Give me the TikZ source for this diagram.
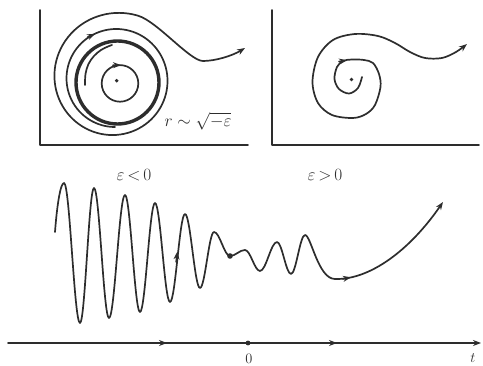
\documentclass[tikz,border=0pt]{standalone}
\usetikzlibrary{arrows.meta}
\definecolor{ink}{RGB}{45,45,45}
\begin{document}
\begin{tikzpicture}[x=1pt,y=-1pt,line cap=round,line join=round,
  curve/.style={draw=ink,line width=1.7pt},
  thickring/.style={draw=ink,line width=3.4pt},
  axisline/.style={draw=ink,line width=1.6pt},
  tip/.style={-{Stealth[length=8pt,width=6pt]}},
  lbl/.style={text=ink,inner sep=0pt}]
\useasboundingbox (0,0) rectangle (483,366);

% ---------- left panel ----------
\draw[axisline] (40,10) -- (40,145) -- (248,145);
% thick ring (limit cycle)
\draw[thickring] (117.5,82.5) circle[radius=41.5];
% inner loop
\draw[curve] (120,83.4) circle[radius=18.3];
\draw[curve,tip] (113,65.2) -- (121,65.1);
% arc inside the ring
\draw[curve] plot[smooth,tension=0.6] coordinates {(85,85) (85.5,74) (88.5,64) (94,56) (101,50) (108,46.5) (112,45)};
% outer spiral with escaping tail
\draw[curve,tip] plot[domain=0:560,samples=140,smooth]
  ({115-(48+2*(\x/180)^2)*sin(\x)},{79+(48+2*(\x/180)^2)*cos(\x)})
  .. controls (157.2,21.4) and (190,61) .. (203,61)
  .. controls (215,61) and (232,56) .. (245,48);
\draw[curve,tip] (87.7,37.2) -- (95,33.8);
\fill[ink] (116.7,80.7) circle[radius=1.9];
\node[lbl,font=\fontsize{17}{20}\selectfont] (rlab) at (198,121) {$r\sim\sqrt{-\varepsilon}$};

% ---------- right panel ----------
\draw[axisline] (272,10) -- (272,145) -- (479,145);
\draw[curve,tip] plot[smooth,tension=0.55] coordinates {
  (362,77) (358,88) (349,93.5) (339,89) (334.5,79) (337,67) (343,61)
  (352,59.5) (364,60) (373,63) (379,74) (380.5,87) (375,105) (366,114)
  (353,118) (332,115) (318,103) (312.5,82) (318,57) (333,40) (355,34)
  (378,36) (395,43) (410,52) (425,58) (442,58) (456,52) (467,44)};
\draw[curve,tip] (339,61.6) -- (347,60.2);
\fill[ink] (351.5,79.5) circle[radius=1.9];

% ---------- labels ----------
\node[lbl,font=\fontsize{16}{19}\selectfont] (lneg) at (134,175) {$\varepsilon\,{<}\,0$};
\node[lbl,font=\fontsize{16}{19}\selectfont] (lpos) at (325,175) {$\varepsilon\,{>}\,0$};

% ---------- time series ----------
\draw[curve] (55,232) .. controls (57,205) and (60.5,183) .. (64,183)
  .. controls (69.76,183) and (74.24,323) .. (80,323)
  .. controls (85.04,323) and (88.96,188) .. (94,188)
  .. controls (99.4,188) and (103.6,318) .. (109,318)
  .. controls (114.76,318) and (119.24,195) .. (125,195)
  .. controls (130.4,195) and (134.6,312) .. (140,312)
  .. controls (145.4,312) and (149.6,203) .. (155,203)
  .. controls (160.4,203) and (164.6,302) .. (170,302)
  .. controls (175.4,302) and (179.6,214) .. (185,214)
  .. controls (190.4,214) and (194.6,288) .. (200,288)
  .. controls (205,288) and (209,232) .. (214,232)
  .. controls (219.8,232) and (224.2,256) .. (230,256)
  .. controls (235.4,256) and (239.6,250) .. (245,250)
  .. controls (250.4,250) and (254.6,271) .. (260,271)
  .. controls (266.1,271) and (270.9,242) .. (277,242)
  .. controls (282,242) and (286,274) .. (291,274)
  .. controls (296,274) and (300,235) .. (305,235)
  .. controls (311,235) and (318,279) .. (335,279);
\draw[curve,tip] (335,279) .. controls (370,280) and (410,250) .. (443,202);
\draw[curve,tip] (176.2,262) -- (177.4,251.5);
\draw[curve,tip] (343,278.9) -- (351,277.3);
\fill[ink] (230,256) circle[radius=2.8];

% ---------- t axis ----------
\draw[axisline,tip] (8,343) -- (481,343);
\draw[axisline,tip] (156,343) -- (167,343);
\draw[axisline,tip] (326,343) -- (337,343);
\fill[ink] (248,343) circle[radius=2.4];
\node[lbl,font=\fontsize{15}{18}\selectfont] (zero) at (249,359) {$0$};
\node[lbl,font=\fontsize{15}{18}\selectfont] (tlab) at (473,358) {$t$};
\end{tikzpicture}
\end{document}
